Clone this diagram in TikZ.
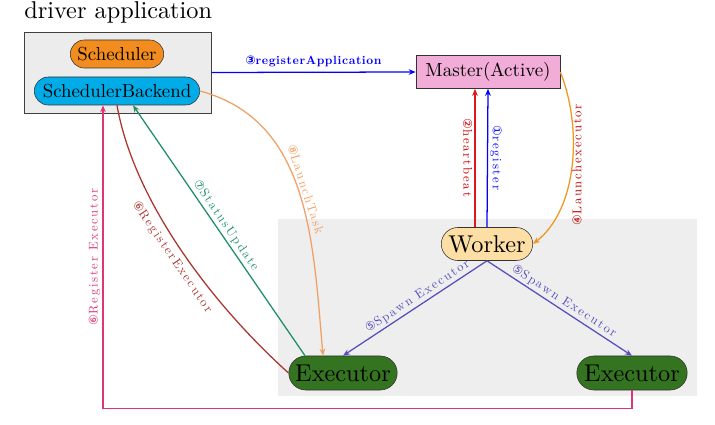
\documentclass[tikz,border=0pt]{standalone}
\usepackage{fontspec}
\setmainfont{lmroman10}[Extension=.otf, UprightFont=*-regular, BoldFont=*-bold, ItalicFont=*-italic]
\newfontfamily\circfont{DejaVu Sans}
\usetikzlibrary{arrows.meta,shapes.misc,calc}
\definecolor{schedorange}{RGB}{243,140,30}
\definecolor{backendcyan}{RGB}{0,172,232}
\definecolor{masterpink}{RGB}{242,172,216}
\definecolor{workerfill}{RGB}{253,222,164}
\definecolor{execgreen}{RGB}{52,116,32}
\definecolor{spawnblue}{RGB}{88,78,188}
\definecolor{brownline}{RGB}{172,52,44}
\definecolor{statusgreen}{RGB}{30,142,104}
\definecolor{taskorange}{RGB}{240,160,100}
\definecolor{regpink}{RGB}{222,52,122}
\definecolor{launchorange}{RGB}{240,150,30}
\newcommand{\cnum}[1]{{\circfont\fontsize{8.5}{9}\selectfont #1}}
\begin{document}
\begin{tikzpicture}[x=0.025cm, y=-0.025cm, >={Stealth[length=5pt,width=4pt]},
    pill/.style = {rounded rectangle, draw=black!80, inner sep=2pt},
    lbl/.style = {font=\fontsize{9}{10}\selectfont\addfontfeature{LetterSpace=14}, inner sep=1.5pt},
    conn/.style = {line width=0.9pt}]

  \useasboundingbox (0,0) rectangle (715,425);
  \fill[gray!13] (278,219) rectangle (697,396);

  % driver side
  \node[anchor=west, inner sep=0, font=\LARGE] (title) at (24,12) {driver application};
  \node[draw=black!75, fill=gray!15, minimum width=4.675cm, minimum height=2.025cm] (driver) at (117.5,72.5) {};
  \node[pill, fill=schedorange, minimum width=2.475cm, minimum height=0.7cm, font=\fontsize{13.4}{15}\selectfont] (scheduler) at (117,54) {Scheduler};
  \node[pill, fill=backendcyan, minimum width=4.275cm, minimum height=0.7cm, font=\fontsize{13.4}{15}\selectfont] (backend) at (117,91) {SchedulerBackend};

  % cluster side
  \node[draw=black!80, fill=masterpink, minimum width=3.6cm, minimum height=0.825cm, font=\fontsize{13.5}{15}\selectfont] (master) at (488,72) {Master(Active)};
  \node[pill, fill=workerfill, minimum width=2.425cm, minimum height=0.825cm, font=\LARGE] (worker) at (487,244) {Worker};
  \node[pill, fill=execgreen, minimum width=2.85cm, minimum height=0.85cm, font=\LARGE] (exL) at (343,373) {Executor};
  \node[pill, fill=execgreen, minimum width=2.9cm, minimum height=0.85cm, font=\LARGE] (exR) at (632,373) {Executor};

  % connectors
  \draw[conn, blue, ->] (driver.east) -- (master.west)
    node[midway, above=2pt, inner sep=1.5pt, font=\fontsize{8.5}{10}\selectfont\bfseries\addfontfeature{LetterSpace=5}] {\cnum{③}registerApplication};
  \draw[conn, red!85!black!90, ->] ($(worker.north)+(-12,0)$) -- ($(master.south)+(-13,0)$)
    node[midway, anchor=north, rotate=-90, lbl, text=red!80!black] {\cnum{②}heartbeat};
  \draw[conn, blue, ->] (worker.north) -- (master.south)
    node[midway, anchor=south, rotate=-90, lbl, text=blue] {\cnum{①}register};
  \draw[conn, launchorange, ->] (master.east) to[out=-68, in=38, looseness=.85]
    node[pos=.5, anchor=north, rotate=90, lbl, inner sep=0pt, text=red!75!black] {\cnum{④}Launchexecutor} (worker.east);
  \draw[conn, spawnblue, ->] (worker.south) -- (exL.north)
    node[pos=.45, sloped, above, lbl] {\cnum{⑤}Spawn Executor};
  \draw[conn, spawnblue, ->] (worker.south) -- (exR.north)
    node[pos=.5, sloped, above, lbl] {\cnum{⑤}Spawn Executor};
  \draw[conn, brownline] (exL.west) to[out=138, in=-80, looseness=0.8]
    node[pos=.5, sloped, below=2pt, lbl] {\cnum{⑥}RegisterExecutor} (backend.south);
  \draw[conn, statusgreen, ->] ($(exL.north)+(-38,0)$) -- ($(backend.south)+(16,0)$)
    node[pos=.5, sloped, above, lbl] {\cnum{⑦}StatusUpdate};
  \draw[conn, taskorange, ->] (backend.east) to[out=-15, in=95]
    node[pos=.5, sloped, above, lbl] {\cnum{⑧}LaunchTask} ($(exL.north)+(-20,0)$);
  \draw[conn, regpink, ->] (exR.south) -- ++(0,18) -| ($(backend.south)+(-14,0)$)
    node[pos=.75, sloped, above, lbl] {\cnum{⑥}Register Executor};

\end{tikzpicture}
\end{document}
